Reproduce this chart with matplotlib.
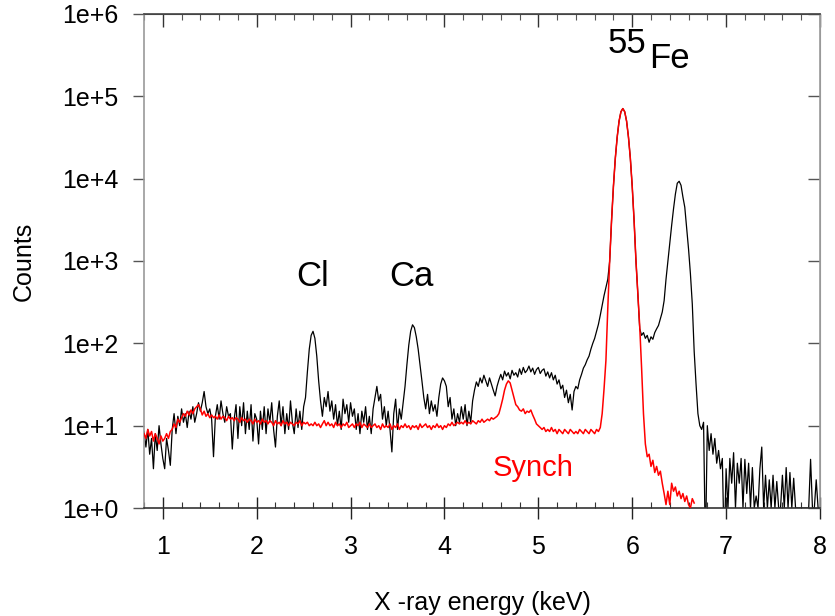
import numpy as np
import matplotlib
matplotlib.use("Agg")
import matplotlib.pyplot as plt
from matplotlib.ticker import FixedLocator, MultipleLocator, NullLocator, FixedFormatter

plt.rcParams['font.family'] = ['Liberation Sans', 'DejaVu Sans']

# Energy channel grid (keV): first channel and channel width
E_START = 0.80
E_STEP = 0.02

# Sample spectrum (black), counts per channel from 0.80 to 8.00 keV
sample_counts = [
    8.5, 5.5, 9, 4.5, 7, 3.0, 8, 5, 10, 6,            # 0.80
    4, 3.0, 7, 5, 3.3, 9, 14, 8, 13, 10,               # 1.00
    16, 11, 14, 9.5, 15, 12, 17, 11, 14, 19,           # 1.20
    15, 19, 26, 17, 14, 16, 12, 4.2, 13, 18,           # 1.40
    12, 20, 14, 11, 17, 13, 14, 5.2, 12, 18,           # 1.60
    7, 17, 10, 19, 8, 15, 9, 18, 6.5, 14,              # 1.80
    12, 6, 15, 9, 17, 8, 16, 11, 19, 9,                # 2.00
    5.5, 13, 20, 10, 17, 8, 14, 9, 20, 11,             # 2.20
    8, 16, 9.5, 15, 9, 17, 22, 45, 85, 125,            # 2.40
    140, 115, 70, 35, 20, 13, 22, 17, 26, 15,          # 2.60
    20, 12, 18, 10, 15, 9, 21, 14, 18, 11,             # 2.80
    19, 13, 16, 9, 14, 8, 15, 11, 17, 9,               # 3.00
    13, 8, 16, 22, 30, 20, 24, 12, 17, 10,             # 3.20
    15, 9, 4.8, 14, 21, 9, 16, 12, 19, 30,             # 3.40
    55, 95, 140, 168, 155, 120, 85, 55, 35, 22,        # 3.60
    16, 24, 14, 20, 15, 18, 13, 22, 32, 38,            # 3.80
    35, 30, 17, 22, 12, 16, 10, 14, 11, 17,            # 4.00
    12, 18, 10, 15, 11, 20, 27, 34, 30, 38,            # 4.20
    33, 41, 35, 30, 38, 32, 27, 23, 30, 36,            # 4.40
    42, 36, 46, 40, 44, 37, 47, 41, 44, 39,            # 4.60
    49, 42, 51, 44, 47, 53, 45, 50, 42, 48,            # 4.80
    51, 43, 47, 49, 40, 45, 38, 44, 36, 41,            # 5.00
    32, 36, 28, 31, 22, 27, 19, 24, 15.5, 26,          # 5.20
    30, 28, 36, 42, 50, 55, 63, 70, 85, 100,           # 5.40
    115, 140, 170, 220, 290, 380, 480, 600, 1000, 3100,  # 5.60
    8100, 17700, 32000, 50000, 65000, 71000, 65000, 50000, 32000, 17700,  # 5.80
    8100, 3100, 1000, 400, 150, 125, 135, 115, 125, 103,  # 6.00
    120, 112, 135, 150, 165, 200, 240, 330, 600, 1000,  # 6.20
    1700, 2700, 4300, 6500, 8800, 9300, 8300, 6000, 4500, 2500,  # 6.40
    1400, 700, 300, 80, 32, 14, 10, 9, 11, 0.3,        # 6.60
    10, 5, 8, 4.5, 7, 3.5, 5, 3, 4, 0.3,               # 6.80
    3, 1, 4, 2, 4.7, 1, 3.5, 2, 4, 1,                  # 7.00
    3.9, 1.5, 3.5, 1, 3.1, 1, 1.4, 1, 3, 5.5,          # 7.20
    1, 2.5, 1, 2.2, 1, 2.5, 1, 2.1, 1, 1,              # 7.40
    2.5, 1, 3.1, 1, 2.7, 1, 2.3, 1, 1, 1,              # 7.60
    1, 1, 1, 1, 1, 3.9, 1, 1, 2.2, 1,                  # 7.80
    1,                                                 # 8.00
]

# Synchrotron spectrum (red), counts per channel from 0.80 to 6.66 keV
synch_counts = [
    8, 7, 9, 7.5, 8.5, 6.5, 8, 7, 6, 7.5,              # 0.80
    6.5, 7, 8, 7, 8.5, 9, 10.5, 9.5, 12, 11,           # 1.00
    12.5, 14, 13, 15, 13.5, 15.5, 14, 16, 17, 18,      # 1.20
    16, 13.5, 15, 13, 14, 12.5, 13.5, 12.5, 13, 12,    # 1.40
    13.5, 12, 13, 12.5, 11.5, 13, 12, 12.5, 11.5, 12.5,  # 1.60
    12, 11, 12.5, 11.5, 12, 11, 12, 11.5, 10.5, 12,    # 1.80
    11, 11.5, 10.5, 12, 11, 11.5, 10.5, 11.5, 11, 10,  # 2.00
    11.5, 10.5, 11, 10, 11.5, 10.5, 11, 10, 11, 10.5,  # 2.20
    10, 11, 10.5, 11.5, 10, 11, 10.5, 11, 10, 10.5,    # 2.40
    10, 11, 10, 10.5, 9.5, 10.5, 11.5, 10, 11, 10,     # 2.60
    10.5, 9.5, 11, 10, 10.5, 9.5, 10.5, 10, 11, 9.5,   # 2.80
    10, 10.5, 9.5, 10.5, 10, 11, 9.5, 10.5, 10, 9.5,   # 3.00
    10.5, 9.5, 10, 10.5, 9.5, 10, 9, 10.5, 9.5, 10,    # 3.20
    9.5, 10.5, 9, 10, 9.5, 10.5, 9, 10, 9.5, 10.5,     # 3.40
    9.5, 10, 9, 10, 9.5, 10, 9, 10.5, 9.5, 10,         # 3.60
    10.5, 9.5, 10, 9, 10, 9.5, 10.5, 9.5, 10, 9,       # 3.80
    10, 9.5, 10.5, 10, 11, 10, 10.5, 11, 10.5, 11,     # 4.00
    10.5, 11.5, 10.5, 11, 10.5, 11.5, 11, 10.5, 11.5, 11,  # 4.20
    12, 11, 11.5, 12, 11.5, 12.5, 12, 12.5, 13, 14,    # 4.40
    17, 21, 27, 32, 35, 33, 27, 22, 18, 17,            # 4.60
    15.5, 15, 16, 14, 15, 14.5, 15.5, 13.5, 12, 10.5,  # 4.80
    10, 9.5, 9, 9.5, 8.5, 9, 8.5, 9.5, 8.5, 9,         # 5.00
    8, 9, 8.5, 8, 9, 8.5, 8, 9, 8.5, 8,                # 5.20
    8.5, 8, 9, 8.5, 8, 9, 8.5, 8, 9, 8.5,              # 5.40
    8, 9, 8.5, 9.5, 14, 28, 62, 270, 1000, 3100,       # 5.60
    8100, 17700, 32000, 50000, 65000, 71000, 65000, 50000, 32000, 17700,  # 5.80
    8100, 3100, 1000, 400, 160, 50, 14, 6, 4.2, 4.5,   # 6.00
    3.2, 3.8, 2.7, 3.2, 2.5, 2.8, 2.0, 1.5, 1.1, 1.6,  # 6.20
    1.1, 2.0, 1.6, 1.8, 1.4, 1.6, 1.3, 1.5, 1.2, 1.4,  # 6.40
    1.1, 1.0, 1.3, 1.15,                               # 6.60
]

x_ticks = [1, 2, 3, 4, 5, 6, 7, 8]
y_ticks = [1e0, 1e1, 1e2, 1e3, 1e4, 1e5, 1e6]
y_tick_labels = ["1e+0", "1e+1", "1e+2", "1e+3", "1e+4", "1e+5", "1e+6"]

energy_sample = np.round(E_START + E_STEP * np.arange(len(sample_counts)), 2)
energy_synch = np.round(E_START + E_STEP * np.arange(len(synch_counts)), 2)

fig = plt.figure(figsize=(8.35, 6.16), dpi=100)
ax = fig.add_axes([0.1725, 0.1753, 0.8095, 0.802])

ax.plot(energy_sample, sample_counts, color='black', lw=0.9, zorder=2)
ax.plot(energy_synch, synch_counts, color='#ff0000', lw=1.1, zorder=3)

ax.set_yscale('log')
ax.set_xlim(0.8, 8)
ax.set_ylim(1, 1e6)

# bottom x axis
ax.xaxis.set_major_locator(FixedLocator(x_ticks))
ax.xaxis.set_minor_locator(MultipleLocator(0.2))
ax.tick_params(axis='x', which='major', direction='inout', length=16, width=1.0,
               color='#222222', labelsize=18, pad=11.5, top=False)
ax.tick_params(axis='x', which='minor', direction='in', length=4.5, width=0.8,
               color='#333333', top=False)

# left y axis
ax.yaxis.set_major_locator(FixedLocator(y_ticks))
ax.yaxis.set_major_formatter(FixedFormatter(y_tick_labels))
ax.yaxis.set_minor_locator(NullLocator())
ax.tick_params(axis='y', which='major', direction='out', length=8, width=1.0,
               color='#555555', labelsize=18, pad=10.5, right=False)

# top axis (ticks only, inward)
secx = ax.secondary_xaxis('top')
secx.xaxis.set_major_locator(FixedLocator(x_ticks))
secx.xaxis.set_minor_locator(MultipleLocator(0.2))
secx.tick_params(which='major', direction='in', length=9, width=1.0, color='#333333',
                 labeltop=False)
secx.tick_params(which='minor', direction='in', length=4, width=0.8, color='#555555')

# right axis (ticks only, inward)
secy = ax.secondary_yaxis('right')
secy.yaxis.set_major_locator(FixedLocator(y_ticks))
secy.yaxis.set_minor_locator(NullLocator())
secy.tick_params(which='major', direction='in', length=9, width=1.0, color='#555555',
                 labelright=False)

for name, col in [('left', '#999999'), ('right', '#999999'),
                  ('top', '#444444'), ('bottom', '#333333')]:
    ax.spines[name].set_color(col)
    ax.spines[name].set_linewidth(1.2)
secx.spines['top'].set_color('#444444')
secy.spines['right'].set_color('#999999')

ax.set_xlabel("X -ray energy (keV)", fontsize=18, labelpad=23)
ax.set_ylabel("Counts", fontsize=18, labelpad=19)

# peak annotations
ax.text(2.60, 10 ** 2.695, "Cl", fontsize=25, ha='center', va='baseline')
ax.text(3.65, 10 ** 2.695, "Ca", fontsize=25, ha='center', va='baseline')
ax.text(5.738, 10 ** 5.524, "55", fontsize=25, ha='left', va='baseline')
ax.text(6.18, 10 ** 5.341, "Fe", fontsize=25, ha='left', va='baseline')
ax.text(4.51, 10 ** 0.39, "Synch", fontsize=21, color='#ff0000', ha='left', va='baseline')

fig.savefig("out.png", dpi=100)
